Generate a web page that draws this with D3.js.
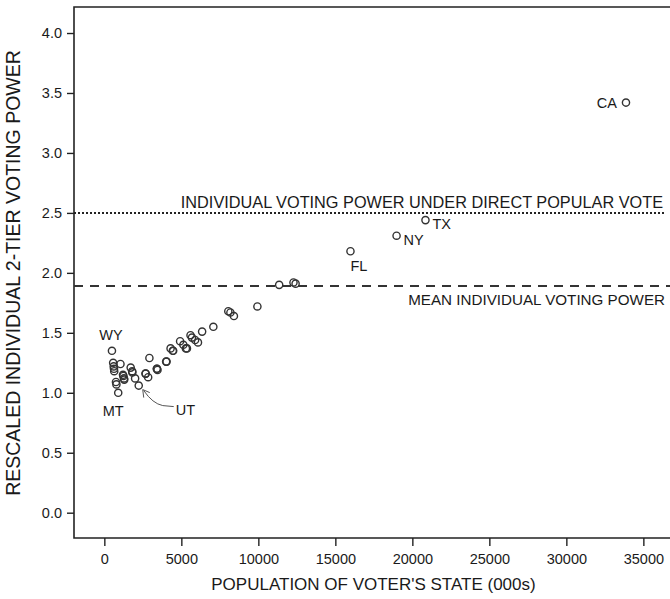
<!DOCTYPE html>
<html>
<head>
<meta charset="utf-8">
<script src="https://cdn.jsdelivr.net/npm/d3@7/dist/d3.min.js"></script>
<style>
  body { margin: 0; background: #fff; }
  text { font-family: "Liberation Sans", Arial, sans-serif; fill: #1a1a1a; }
</style>
</head>
<body>
<svg id="chart"></svg>
<script>
// states, 2000 census population (000s) and rescaled 2-tier voting power
var states = ["AL","AK","AZ","AR","CA","CO","CT","DE","DC","FL","GA","HI","ID","IL","IN","IA","KS",
  "KY","LA","ME","MD","MA","MI","MN","MS","MO","MT","NE","NV","NH","NJ","NM","NY","NC","ND","OH",
  "OK","OR","PA","RI","SC","SD","TN","TX","UT","VT","VA","WA","WV","WI","WY"];
var population = [4447, 627, 5131, 2673, 33872, 4301, 3406, 784, 572, 15982, 8186, 1212, 1294, 12419,
  6080, 2926, 2688, 4042, 4469, 1275, 5296, 6349, 9938, 4919, 2845, 5595, 902, 1711, 1998, 1236, 8414,
  1819, 18976, 8049, 642, 11353, 3451, 3421, 12281, 1048, 4012, 755, 5689, 20852, 2233, 609, 7078,
  5894, 1808, 5364, 494];
var power = [1.35, 1.20, 1.40, 1.16, 3.42, 1.37, 1.20, 1.07, 1.25, 2.18, 1.67, 1.15, 1.11, 1.91,
  1.42, 1.29, 1.16, 1.26, 1.35, 1.12, 1.37, 1.51, 1.72, 1.43, 1.13, 1.48, 1.00, 1.21, 1.12, 1.14, 1.64,
  1.17, 2.31, 1.68, 1.18, 1.90, 1.19, 1.20, 1.92, 1.24, 1.26, 1.09, 1.46, 2.44, 1.06, 1.22, 1.55,
  1.44, 1.18, 1.37, 1.35];

var xTicks = [0, 5000, 10000, 15000, 20000, 25000, 30000, 35000];
var yTicks = [0.0, 0.5, 1.0, 1.5, 2.0, 2.5, 3.0, 3.5, 4.0];

var directVotePower = 2.50;
var meanPower = 1.89;
var directVoteLabel = "INDIVIDUAL VOTING POWER UNDER DIRECT POPULAR VOTE";
var meanLabel = "MEAN INDIVIDUAL VOTING POWER";
var xTitle = "POPULATION OF VOTER'S STATE (000s)";
var yTitle = "RESCALED INDIVIDUAL 2-TIER VOTING POWER";

var width = 670, height = 599;
var plotLeft = 74, plotRight = 670, plotTop = 7, plotBottom = 538;

var svg = d3.select("#chart").attr("width", width).attr("height", height);

var x = d3.scaleLinear().domain([-1970, 36730]).range([plotLeft, plotRight]);
var y = d3.scaleLinear().domain([-0.211, 4.217]).range([plotBottom, plotTop]);

var data = states.map(function(s, i) {
  return { state: s, pop: population[i], power: power[i] };
});

// frame (left, top and bottom; right side runs off the picture)
svg.append("path")
  .attr("d", "M" + plotRight + "," + plotTop + "H" + plotLeft + "V" + plotBottom + "H" + plotRight)
  .attr("fill", "none").attr("stroke", "#222").attr("stroke-width", 1.6);

// axes
var xAxis = d3.axisBottom(x).tickValues(xTicks).tickSize(8).tickPadding(8)
  .tickFormat(d3.format("d"));
var yAxis = d3.axisLeft(y).tickValues(yTicks).tickSize(7).tickPadding(5)
  .tickFormat(d3.format(".1f"));

svg.append("g").attr("class", "x-axis")
  .attr("transform", "translate(0," + plotBottom + ")")
  .call(xAxis);
svg.append("g").attr("class", "y-axis")
  .attr("transform", "translate(" + plotLeft + ",0)")
  .call(yAxis);

svg.selectAll(".x-axis .domain, .y-axis .domain").remove();
svg.selectAll(".tick line").attr("stroke", "#222").attr("stroke-width", 1.4);
svg.selectAll(".tick text")
  .style("font-family", "'Liberation Sans', Arial, sans-serif")
  .style("font-size", "14.5px").attr("fill", "#1a1a1a");

// reference lines
svg.append("line")
  .attr("x1", plotLeft).attr("x2", 666)
  .attr("y1", y(directVotePower)).attr("y2", y(directVotePower))
  .attr("stroke", "#222").attr("stroke-width", 2).attr("stroke-dasharray", "2,2");
svg.append("line")
  .attr("x1", plotLeft).attr("x2", plotRight)
  .attr("y1", y(meanPower)).attr("y2", y(meanPower))
  .attr("stroke", "#333").attr("stroke-width", 2).attr("stroke-dasharray", "9,7");

svg.append("text")
  .attr("x", 663).attr("y", y(directVotePower) - 5)
  .attr("text-anchor", "end").style("font-size", "16.3px")
  .text(directVoteLabel);
svg.append("text")
  .attr("x", 665).attr("y", y(meanPower) + 19)
  .attr("text-anchor", "end").style("font-size", "15.2px")
  .text(meanLabel);

// points
svg.append("g").attr("class", "data")
  .selectAll("circle").data(data)
  .enter().append("circle")
  .attr("cx", function(d) { return x(d.pop); })
  .attr("cy", function(d) { return y(d.power); })
  .attr("r", 3.6)
  .attr("fill", "none").attr("stroke", "#333").attr("stroke-width", 1.4);

// state labels, offset from their point
var labelOffsets = {
  WY: [-1, -11, "middle"], MT: [-5, 23, "middle"], UT: [37, 29, "start"],
  FL: [0, 20, "start"], NY: [7, 9, "start"], TX: [7, 9, "start"], CA: [-9, 5, "end"]
};
var labelled = data.filter(function(d) { return labelOffsets[d.state]; });
svg.append("g").attr("class", "labels")
  .selectAll("text").data(labelled)
  .enter().append("text")
  .attr("x", function(d) { return x(d.pop) + labelOffsets[d.state][0]; })
  .attr("y", function(d) { return y(d.power) + labelOffsets[d.state][1]; })
  .attr("text-anchor", function(d) { return labelOffsets[d.state][2]; })
  .style("font-size", "14.5px")
  .text(function(d) { return d.state; });

// curved pointer to UT
var ut = data.filter(function(d) { return d.state === "UT"; })[0];
var ux = x(ut.pop), uy = y(ut.power);
svg.append("path")
  .attr("d", "M" + (ux + 35) + "," + (uy + 21) + " L" + (ux + 24) + "," + (uy + 20) +
    " Q" + (ux + 14) + "," + (uy + 18) + " " + (ux + 5) + "," + (uy + 5))
  .attr("fill", "none").attr("stroke", "#555").attr("stroke-width", 1);
svg.append("path")
  .attr("d", "M" + (ux + 5) + "," + (uy + 12) + " L" + (ux + 4) + "," + (uy + 4) +
    " L" + (ux + 11) + "," + (uy + 7))
  .attr("fill", "none").attr("stroke", "#555").attr("stroke-width", 1);

// axis titles
svg.append("text")
  .attr("x", (104 + 643) / 2).attr("y", 590)
  .attr("text-anchor", "middle").style("font-size", "17px")
  .text(xTitle);
svg.append("text")
  .attr("transform", "translate(20," + ((36 + 510) / 2) + ") rotate(-90)")
  .attr("text-anchor", "middle").style("font-size", "19.5px")
  .text(yTitle);
</script>
</body>
</html>
